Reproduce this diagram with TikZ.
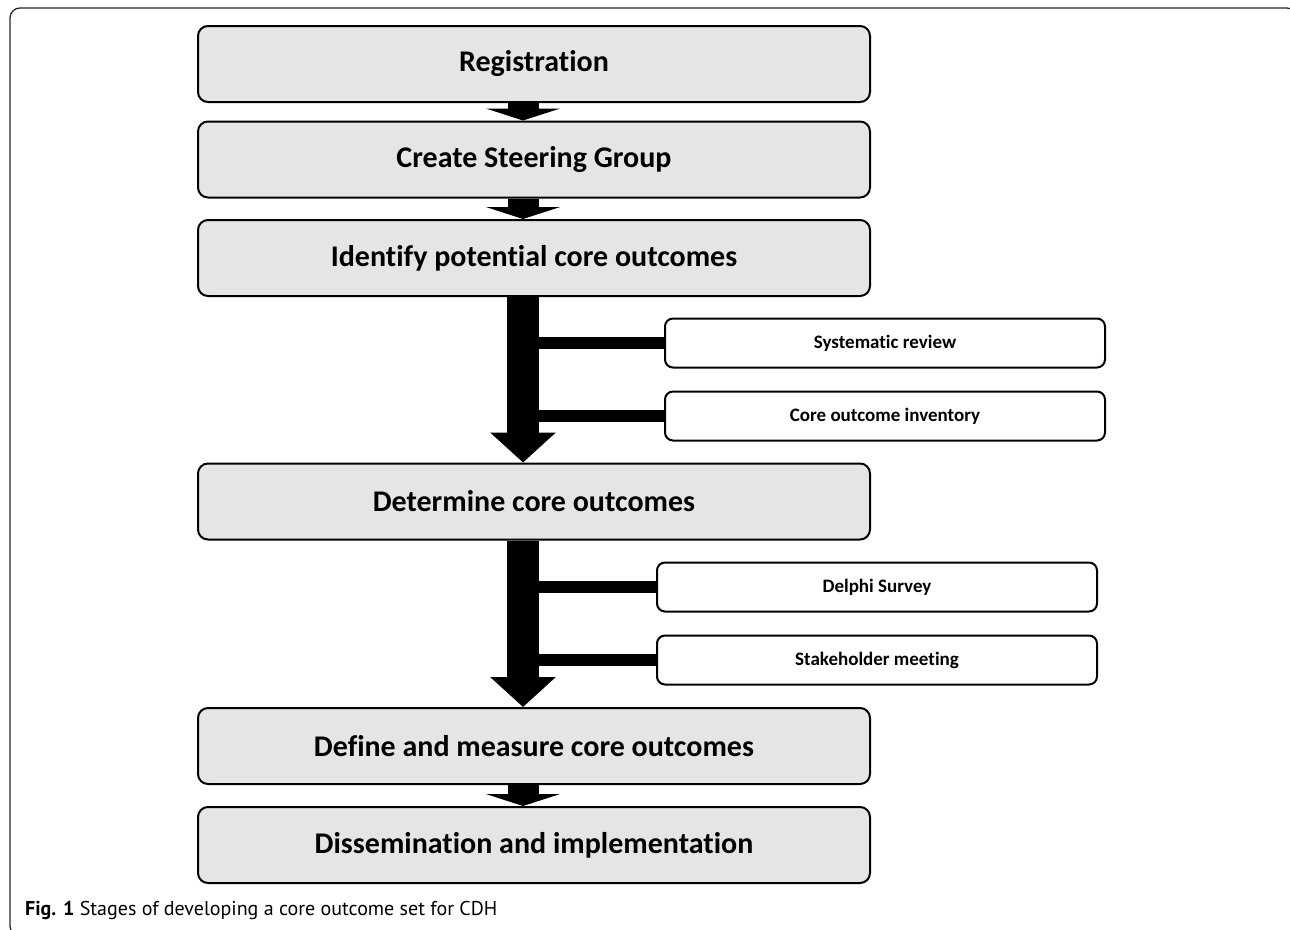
\documentclass[tikz,border=0pt]{standalone}
\usepackage{fontspec}
\setmainfont{Carlito}[Ligatures={NoCommon}]
\newfontfamily\capfont{PT Sans}[Ligatures={NoCommon}]
\usetikzlibrary{arrows.meta}
\definecolor{boxgray}{HTML}{E5E5E5}
\begin{document}
\begin{tikzpicture}[x=1pt,y=-1pt,
  mainbox/.style={draw=black, line width=2pt, fill=boxgray, rounded corners=10pt,
    minimum width=672pt, minimum height=76pt, inner sep=0pt,
    font=\fontsize{30}{36}\selectfont\bfseries},
  sidebox/.style={draw=black, line width=2pt, fill=white, rounded corners=8pt,
    minimum width=440pt, minimum height=49pt, inner sep=0pt,
    font=\fontsize{19}{23}\selectfont\bfseries},
  smallarrow/.style={line width=31pt, -{Triangle[width=74pt,length=12pt]}},
  bigarrow/.style={line width=32pt, -{Triangle[width=64pt,length=30pt]}},
  bar/.style={line width=12pt}]
\useasboundingbox (0,0) rectangle (1290,929);
\begin{scope}
\clip (0,0) rectangle (1290,929);
\draw[line width=1.3pt, draw=black!85, rounded corners=10pt] (10,8) rectangle (1297,936);
\end{scope}
\coordinate (ax) at (523,0);
% main stages
\node[mainbox] (b1) at (534,64) {Registration};
\node[mainbox] (b2) at (534,159.5) {Create Steering Group};
\node[mainbox] (b3) at (534,258) {Identify potential core outcomes};
\node[mainbox] (b4) at (534,501.5) {Determine core outcomes};
\node[mainbox] (b5) at (534,746) {Define and measure core outcomes};
\node[mainbox] (b6) at (534,845) {Dissemination and implementation};
% side boxes
\node[sidebox] (s1) at (885,343) {Systematic review};
\node[sidebox] (s2) at (885,416) {Core outcome inventory};
\node[sidebox] (s3) at (877,587) {Delphi Survey};
\node[sidebox] (s4) at (877,660) {Stakeholder meeting};
% connectors
\draw[smallarrow] (b1.south -| ax) -- (b2.north -| ax);
\draw[smallarrow] (b2.south -| ax) -- (b3.north -| ax);
\draw[bar] (s1.west -| ax) -- (s1.west);
\draw[bar] (s2.west -| ax) -- (s2.west);
\draw[bigarrow] (b3.south -| ax) -- (b4.north -| ax);
\draw[bar] (s3.west -| ax) -- (s3.west);
\draw[bar] (s4.west -| ax) -- (s4.west);
\draw[bigarrow] (b4.south -| ax) -- (b5.north -| ax);
\draw[smallarrow] (b5.south -| ax) -- (b6.north -| ax);
% caption
\node[anchor=base west, inner sep=0pt, font=\capfont\fontsize{20}{24}\selectfont] (cap) at (25,915)
  {\textbf{Fig. 1} Stages of developing a core outcome set for CDH};
\end{tikzpicture}
\end{document}
